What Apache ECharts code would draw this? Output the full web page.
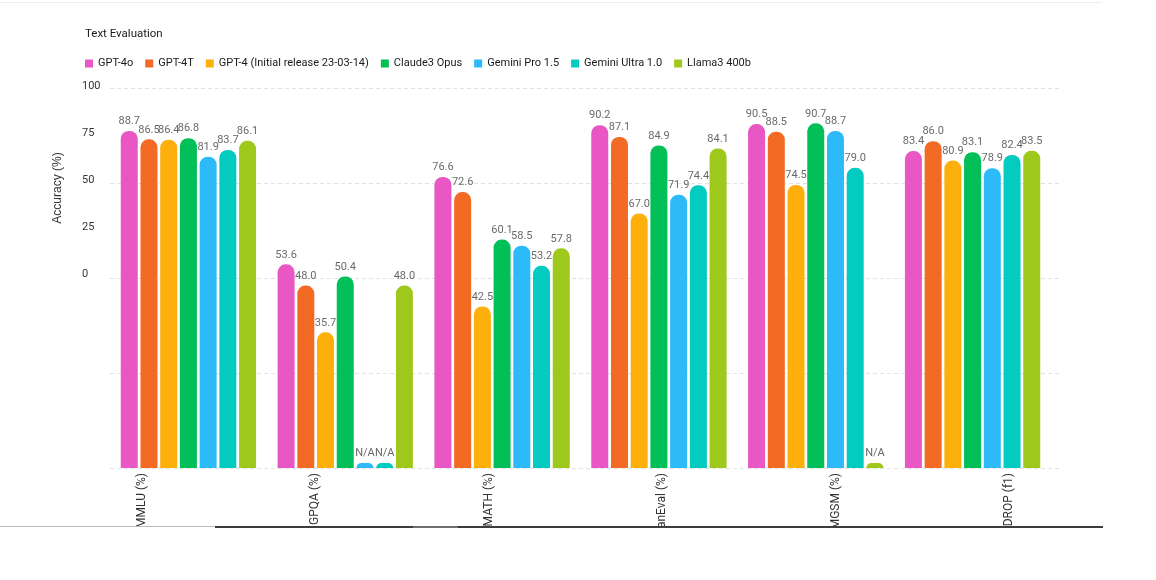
<!DOCTYPE html>
<html>
<head>
<meta charset="utf-8">
<title>Text Evaluation</title>
<script src="https://cdn.jsdelivr.net/npm/echarts@6/dist/echarts.min.js"></script>
<style>
    html, body { margin: 0; padding: 0; background: #fff; }
    #myChart { width: 1156px; height: 580px; }
</style>
</head>
<body>
<div id="myChart"></div>
<script>
// benchmark names (x axis)
const categories = ['MMLU (%)', 'GPQA (%)', 'MATH (%)', 'HumanEval (%)', 'MGSM (%)', 'DROP (f1)'];
const models = ['GPT-4o', 'GPT-4T', 'GPT-4 (Initial release 23-03-14)', 'Claude3 Opus', 'Gemini Pro 1.5', 'Gemini Ultra 1.0', 'Llama3 400b'];

// scores per model, null = N/A
const gpt4o       = [88.7, 53.6, 76.6, 90.2, 90.5, 83.4];
const gpt4t       = [86.5, 48.0, 72.6, 87.1, 88.5, 86.0];
const gpt4        = [86.4, 35.7, 42.5, 67.0, 74.5, 80.9];
const claude3Opus = [86.8, 50.4, 60.1, 84.9, 90.7, 83.1];
const geminiPro   = [81.9, null, 58.5, 71.9, 88.7, 78.9];
const geminiUltra = [83.7, null, 53.2, 74.4, 79.0, 82.4];
const llama3      = [86.1, 48.0, 57.8, 84.1, null, 83.5];

const yMin = 0, yMax = 100, yStep = 25;

const colors = ['#e957c5', '#f26a24', '#fdb00b', '#03bf57', '#2cbaf8', '#03cbc0', '#9ec81b'];
const font = 'Roboto, "Liberation Sans", sans-serif';

const seriesValues = [gpt4o, gpt4t, gpt4, claude3Opus, geminiPro, geminiUltra, llama3];

let chart = echarts.init(document.getElementById('myChart'));

chart.setOption({
    animation: false,
    color: colors,
    textStyle: { fontFamily: font },
    title: {
        text: 'Text Evaluation',
        left: 85,
        top: 28,
        padding: 0,
        textStyle: { fontSize: 11.5, fontWeight: 'normal', color: '#1a1a1a', fontFamily: font }
    },
    legend: {
        data: models,
        left: 85,
        top: 58,
        padding: 0,
        icon: 'rect',
        itemWidth: 8,
        itemHeight: 8,
        itemGap: 12,
        textStyle: { fontSize: 11, color: '#1a1a1a', fontFamily: font }
    },
    grid: [
        { left: 110, right: 105, top: 88, bottom: 112 },   // bars
        { left: 110, right: 96, top: 88, bottom: 112 },    // dashed lines
        { left: 55, right: 60, top: 88, bottom: 112 },     // x labels
        { left: 110, right: 96, top: 86, height: 188 }     // y labels
    ],
    xAxis: [
        {
            type: 'category', gridIndex: 0, data: categories,
            axisLine: { show: false }, axisTick: { show: false }, axisLabel: { show: false }
        },
        { type: 'value', gridIndex: 1, show: false },
        {
            type: 'category', gridIndex: 2, data: categories,
            axisLine: { show: false }, axisTick: { show: false },
            axisLabel: { rotate: 90, margin: 5, fontSize: 12, color: '#333', interval: 0 }
        },
        { type: 'value', gridIndex: 3, show: false }
    ],
    yAxis: [
        { type: 'value', gridIndex: 0, min: yMin, max: yMax, show: false },
        {
            type: 'value', gridIndex: 1, min: yMin, max: yMax, interval: yStep,
            axisLine: { show: false }, axisTick: { show: false }, axisLabel: { show: false },
            splitLine: { show: true, lineStyle: { color: '#e2e2e2', type: [4, 3] } }
        },
        { type: 'value', gridIndex: 2, show: false },
        {
            type: 'value', gridIndex: 3, min: yMin, max: yMax, interval: yStep,
            axisLine: { show: false }, axisTick: { show: false }, splitLine: { show: false },
            axisLabel: { align: 'left', margin: 28, fontSize: 11, color: '#333' }
        }
    ],
    series: seriesValues.map((vals, i) => {
        return {
            name: models[i],
            type: 'bar',
            xAxisIndex: 0,
            yAxisIndex: 0,
            barWidth: 17,
            barGap: '16%',
            barMinHeight: 5,
            itemStyle: { color: colors[i], borderRadius: [8, 8, 0, 0] },
            label: {
                show: true,
                position: 'top',
                distance: 4,
                fontSize: 11,
                color: '#6a6a6a',
                formatter: (p) => p.data && p.data.na ? 'N/A' : Number(p.value).toFixed(1)
            },
            data: vals.map((v) => v === null ? { value: 0, na: true } : v)
        };
    }),
    graphic: [
        {
            type: 'text', x: 58, y: 188, rotation: Math.PI / 2,
            style: { text: 'Accuracy (%)', fontSize: 12, fill: '#333', font: '12px ' + font, align: 'center', verticalAlign: 'middle' }
        },
        { type: 'rect', shape: { x: 0, y: 2, width: 1102, height: 1 }, style: { fill: '#efefef' } },
        { type: 'rect', z: 100, shape: { x: 0, y: 526, width: 1156, height: 54 }, style: { fill: '#fff' } },
        { type: 'rect', z: 101, shape: { x: 0, y: 526, width: 215, height: 1 }, style: { fill: '#bdbdbd' } },
        { type: 'rect', z: 101, shape: { x: 215, y: 526, width: 888, height: 2 }, style: { fill: '#3d3d3d' } },
        { type: 'rect', z: 102, shape: { x: 413, y: 526, width: 45, height: 2 }, style: { fill: '#6e6e6e' } }
    ]
});

window.addEventListener('resize', () => {
    chart && chart.resize();
});
</script>
</body>
</html>
